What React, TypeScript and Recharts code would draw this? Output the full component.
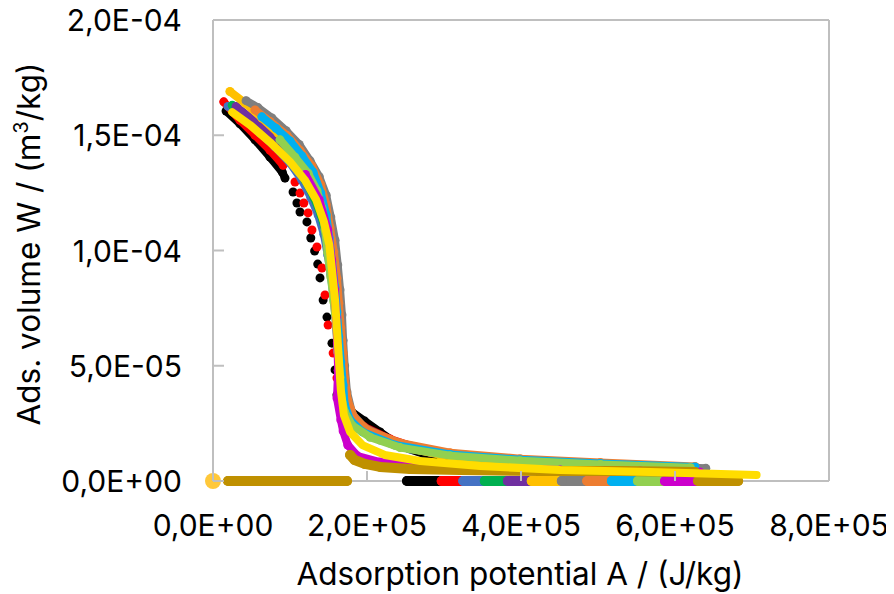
import React from 'react';
import { ScatterChart, Scatter, XAxis, YAxis, ReferenceLine } from 'recharts';

// ---- axis ticks ----
const xTicks = [0, 200000, 400000, 600000, 800000];
const yTicks = [0, 5e-5, 1e-4, 1.5e-4, 2e-4];

// ---- curves: A (J/kg) and W (m3/kg) ----
const blackTopA = [17000, 35000, 54500, 74000, 90000, 93500];
const blackTopW = [1.605e-4, 1.55e-4, 1.48e-4, 1.405e-4, 1.34e-4, 1.314e-4];
const blackSteepA = [104000, 109000, 113000, 122000, 127000, 132000, 136000, 139000, 143000, 148000, 154500, 158500, 161000];
const blackSteepW = [1.254e-4, 1.206e-4, 1.167e-4, 1.124e-4, 1.054e-4, 0.998e-4, 0.941e-4, 0.881e-4, 0.785e-4, 0.711e-4, 0.598e-4, 0.482e-4, 0.373e-4];
const blackTailA = [165000, 171000, 180500, 197000, 217000, 243000, 282000, 347000, 438000, 529000, 607000];
const blackTailW = [0.338e-4, 0.317e-4, 0.299e-4, 0.26e-4, 0.213e-4, 0.152e-4, 0.108e-4, 0.08e-4, 0.062e-4, 0.05e-4, 0.041e-4];

const redTopA = [14000, 35000, 54500, 74000, 91000];
const redTopW = [1.645e-4, 1.565e-4, 1.5e-4, 1.435e-4, 1.37e-4];
const redSteepA = [106500, 113000, 118000, 123500, 128500, 135000, 141500, 145500, 149500, 156000, 161000, 166000];
const redSteepW = [1.297e-4, 1.249e-4, 1.206e-4, 1.163e-4, 1.089e-4, 1.015e-4, 0.924e-4, 0.807e-4, 0.677e-4, 0.555e-4, 0.447e-4, 0.351e-4];
const redTailA = [172500, 180500, 197000, 230000, 269000, 334000, 425000, 529000, 619000];
const redTailW = [0.308e-4, 0.273e-4, 0.234e-4, 0.182e-4, 0.139e-4, 0.102e-4, 0.08e-4, 0.063e-4, 0.05e-4];

const blueA = [19500, 41500, 61000, 80500, 100000, 115500, 127000, 136500, 144000, 149000, 153000, 157000, 160000, 162000, 165000, 169000, 175000, 188000, 217000, 256000, 321000, 412000, 516000, 626000];
const blueW = [1.625e-4, 1.565e-4, 1.51e-4, 1.45e-4, 1.38e-4, 1.305e-4, 1.23e-4, 1.155e-4, 1.07e-4, 0.98e-4, 0.895e-4, 0.785e-4, 0.675e-4, 0.57e-4, 0.46e-4, 0.35e-4, 0.29e-4, 0.23e-4, 0.178e-4, 0.139e-4, 0.106e-4, 0.08e-4, 0.063e-4, 0.05e-4];

const greenA = [25000, 48000, 67500, 87000, 105000, 119500, 131000, 140000, 147000, 152000, 156000, 158500, 161000, 164000, 166000, 170000, 178000, 194000, 223000, 269000, 334000, 425000, 529000, 626000];
const greenW = [1.63e-4, 1.565e-4, 1.51e-4, 1.45e-4, 1.38e-4, 1.305e-4, 1.23e-4, 1.155e-4, 1.07e-4, 0.98e-4, 0.895e-4, 0.785e-4, 0.675e-4, 0.57e-4, 0.46e-4, 0.35e-4, 0.27e-4, 0.22e-4, 0.174e-4, 0.134e-4, 0.102e-4, 0.08e-4, 0.063e-4, 0.05e-4];

const purpleA = [30000, 54500, 74000, 93500, 112000, 126000, 137000, 144500, 150000, 154500, 158000, 161000, 163000, 165500, 167500, 171000, 179000, 196000, 230000, 282000, 347000, 438000, 542000, 626000];
const purpleW = [1.625e-4, 1.56e-4, 1.505e-4, 1.445e-4, 1.37e-4, 1.3e-4, 1.22e-4, 1.14e-4, 1.055e-4, 0.967e-4, 0.87e-4, 0.77e-4, 0.665e-4, 0.56e-4, 0.447e-4, 0.343e-4, 0.27e-4, 0.217e-4, 0.165e-4, 0.124e-4, 0.098e-4, 0.08e-4, 0.063e-4, 0.05e-4];

const amberA = [22000, 41500, 63500, 84500, 102500, 118000, 131000, 141500, 149000, 154500, 158500, 161000, 163500, 166000, 169000, 173000, 181000, 199000, 236000, 295000, 373000, 477000, 581000, 632000];
const amberW = [1.69e-4, 1.64e-4, 1.575e-4, 1.51e-4, 1.435e-4, 1.36e-4, 1.28e-4, 1.2e-4, 1.11e-4, 1.01e-4, 0.905e-4, 0.795e-4, 0.685e-4, 0.577e-4, 0.47e-4, 0.36e-4, 0.273e-4, 0.213e-4, 0.156e-4, 0.113e-4, 0.087e-4, 0.067e-4, 0.055e-4, 0.048e-4];

const grayA = [43000, 58500, 76500, 95000, 112000, 126000, 138000, 147000, 153000, 158500, 162000, 165000, 167500, 169000, 171000, 174000, 181000, 197000, 236000, 295000, 373000, 477000, 581000, 640000];
const grayW = [1.65e-4, 1.62e-4, 1.575e-4, 1.52e-4, 1.46e-4, 1.39e-4, 1.32e-4, 1.24e-4, 1.145e-4, 1.045e-4, 0.937e-4, 0.83e-4, 0.72e-4, 0.61e-4, 0.5e-4, 0.386e-4, 0.29e-4, 0.23e-4, 0.17e-4, 0.125e-4, 0.099e-4, 0.078e-4, 0.063e-4, 0.055e-4];

const orangeA = [54500, 74000, 96000, 113000, 128500, 140000, 147000, 152000, 157000, 161000, 163500, 166000, 169000, 171000, 175000, 183000, 201000, 243000, 308000, 399000, 503000, 626000];
const orangeW = [1.61e-4, 1.56e-4, 1.5e-4, 1.435e-4, 1.367e-4, 1.285e-4, 1.2e-4, 1.1e-4, 0.993e-4, 0.88e-4, 0.77e-4, 0.664e-4, 0.555e-4, 0.447e-4, 0.35e-4, 0.278e-4, 0.22e-4, 0.165e-4, 0.123e-4, 0.097e-4, 0.08e-4, 0.063e-4];

const cyanA = [63500, 82000, 100000, 115500, 130000, 140000, 147000, 151000, 154500, 158500, 161000, 163500, 166000, 169000, 171000, 178000, 194000, 236000, 308000, 399000, 503000, 626000];
const cyanW = [1.58e-4, 1.53e-4, 1.475e-4, 1.41e-4, 1.34e-4, 1.25e-4, 1.155e-4, 1.055e-4, 0.95e-4, 0.84e-4, 0.733e-4, 0.625e-4, 0.516e-4, 0.416e-4, 0.33e-4, 0.265e-4, 0.213e-4, 0.156e-4, 0.115e-4, 0.092e-4, 0.076e-4, 0.061e-4];

const limeA = [87000, 106500, 123500, 135000, 141500, 145500, 149000, 153000, 157000, 160000, 162000, 165000, 166000, 171000, 181000, 204000, 243000, 308000, 399000, 503000, 620000];
const limeW = [1.48e-4, 1.405e-4, 1.335e-4, 1.26e-4, 1.185e-4, 1.09e-4, 0.99e-4, 0.885e-4, 0.777e-4, 0.668e-4, 0.56e-4, 0.45e-4, 0.373e-4, 0.3e-4, 0.24e-4, 0.19e-4, 0.145e-4, 0.11e-4, 0.088e-4, 0.072e-4, 0.058e-4];

const magentaA = [120000, 138000, 149000, 154000, 158000, 160000, 161500, 162500, 161000, 166000, 169000, 175000, 188000, 217000, 269000, 347000, 451000, 555000, 632000];
const magentaW = [1.33e-4, 1.22e-4, 1.09e-4, 0.96e-4, 0.83e-4, 0.71e-4, 0.6e-4, 0.48e-4, 0.36e-4, 0.265e-4, 0.217e-4, 0.156e-4, 0.108e-4, 0.082e-4, 0.065e-4, 0.056e-4, 0.048e-4, 0.043e-4, 0.039e-4];

const goldA = [178000, 184000, 197000, 217000, 256000, 321000, 425000, 529000, 626000];
const goldW = [0.113e-4, 0.091e-4, 0.074e-4, 0.061e-4, 0.052e-4, 0.048e-4, 0.043e-4, 0.043e-4, 0.039e-4];

const yellowA = [25000, 48000, 74000, 100000, 119500, 134000, 144000, 151000, 154500, 158500, 161000, 163500, 166000, 170000, 178000, 194000, 223000, 269000, 347000, 451000, 568000, 706000];
const yellowW = [1.6e-4, 1.545e-4, 1.47e-4, 1.385e-4, 1.305e-4, 1.22e-4, 1.125e-4, 1.025e-4, 0.915e-4, 0.785e-4, 0.655e-4, 0.525e-4, 0.395e-4, 0.286e-4, 0.213e-4, 0.156e-4, 0.113e-4, 0.087e-4, 0.065e-4, 0.048e-4, 0.039e-4, 0.026e-4];

// ---- points at W = 0 (A values) ----
const goldZeroLeftA = [19500, 60000, 100000, 140000, 174000];
const blackZeroA = [252000, 275000, 297000];
const redZeroA = [297000, 325000];
const blueZeroA = [325000, 353000];
const greenZeroA = [353000, 383000];
const purpleZeroA = [383000, 414000];
const amberZeroA = [414000, 435000, 453000];
const grayZeroA = [453000, 486000];
const orangeZeroA = [486000, 518000];
const cyanZeroA = [518000, 552000];
const limeZeroA = [552000, 587000];
const magentaZeroA = [587000, 630000];
const goldZeroRightA = [630000, 660000, 682000];
const originA = [0];

const C = {
  black: '#000000', red: '#FF0000', blue: '#4472C4', green: '#00B050', purple: '#7030A0',
  amber: '#FFC000', gray: '#7F7F7F', orange: '#ED7D31', cyan: '#00B0F0', lime: '#92D050',
  magenta: '#CC00CC', gold: '#BF9000', yellow: '#FFDD00', origin: '#FFC83A',
};

const pts = (a: number[], w: number[]) => a.map((x, i) => ({ x, y: w[i] }));
const zero = (a: number[]) => a.map((x) => ({ x, y: 0 }));

type S = { key: string; data: { x: number; y: number }[]; color: string; r: number; lw: number };

const series: S[] = [
  { key: 'gz', data: zero(goldZeroLeftA), color: C.gold, r: 5, lw: 10 },
  { key: 'bz', data: zero(blackZeroA), color: C.black, r: 5, lw: 10 },
  { key: 'rz', data: zero(redZeroA), color: C.red, r: 5, lw: 10 },
  { key: 'blz', data: zero(blueZeroA), color: C.blue, r: 5, lw: 10 },
  { key: 'grz', data: zero(greenZeroA), color: C.green, r: 5, lw: 10 },
  { key: 'pz', data: zero(purpleZeroA), color: C.purple, r: 5, lw: 10 },
  { key: 'az', data: zero(amberZeroA), color: C.amber, r: 5, lw: 10 },
  { key: 'gyz', data: zero(grayZeroA), color: C.gray, r: 5, lw: 10 },
  { key: 'oz', data: zero(orangeZeroA), color: C.orange, r: 5, lw: 10 },
  { key: 'cz', data: zero(cyanZeroA), color: C.cyan, r: 5, lw: 10 },
  { key: 'lz', data: zero(limeZeroA), color: C.lime, r: 5, lw: 10 },
  { key: 'mz', data: zero(magentaZeroA), color: C.magenta, r: 5, lw: 10 },
  { key: 'gz2', data: zero(goldZeroRightA), color: C.gold, r: 5, lw: 10 },
  { key: 'org', data: zero(originA), color: C.origin, r: 8, lw: 0 },
  { key: 'bt', data: pts(blackTopA, blackTopW), color: C.black, r: 4.5, lw: 8 },
  { key: 'bs', data: pts(blackSteepA, blackSteepW), color: C.black, r: 4.5, lw: 0 },
  { key: 'btl', data: pts(blackTailA, blackTailW), color: C.black, r: 4.5, lw: 8 },
  { key: 'rt', data: pts(redTopA, redTopW), color: C.red, r: 4.5, lw: 8 },
  { key: 'rs', data: pts(redSteepA, redSteepW), color: C.red, r: 4.5, lw: 0 },
  { key: 'rtl', data: pts(redTailA, redTailW), color: C.red, r: 4.5, lw: 8 },
  { key: 'bl', data: pts(blueA, blueW), color: C.blue, r: 4.5, lw: 8 },
  { key: 'gr', data: pts(greenA, greenW), color: C.green, r: 4.5, lw: 8 },
  { key: 'pu', data: pts(purpleA, purpleW), color: C.purple, r: 4.5, lw: 8 },
  { key: 'am', data: pts(amberA, amberW), color: C.amber, r: 4.5, lw: 8 },
  { key: 'gy', data: pts(grayA, grayW), color: C.gray, r: 4.5, lw: 8 },
  { key: 'or', data: pts(orangeA, orangeW), color: C.orange, r: 4.5, lw: 8 },
  { key: 'cy', data: pts(cyanA, cyanW), color: C.cyan, r: 4.5, lw: 8 },
  { key: 'li', data: pts(limeA, limeW), color: C.lime, r: 4.5, lw: 8 },
  { key: 'ma', data: pts(magentaA, magentaW), color: C.magenta, r: 4.5, lw: 8 },
  { key: 'go', data: pts(goldA, goldW), color: C.gold, r: 5, lw: 10 },
  { key: 'ye', data: pts(yellowA, yellowW), color: C.yellow, r: 0, lw: 8 },
];

const FONT = 'Inter, "Noto Sans", sans-serif';
const AXIS = '#BFBFBF';

const fmt = (v: number) => {
  if (v === 0) return '0,0E+00';
  const e = Math.floor(Math.log10(Math.abs(v)) + 1e-9);
  const m = v / Math.pow(10, e);
  return m.toFixed(1).replace('.', ',') + 'E' + (e < 0 ? '-' : '+') + String(Math.abs(e)).padStart(2, '0');
};

const XTick = (props: any) => {
  const { x, y, payload } = props;
  return (
    <g>
      <line x1={x} y1={y} x2={x} y2={y - 10} stroke={AXIS} strokeWidth={2} />
      <text x={x} y={y + 55} textAnchor="middle" fontSize={30} fontFamily={FONT} fill="#000">
        {fmt(payload.value)}
      </text>
    </g>
  );
};

const YTick = (props: any) => {
  const { x, y, payload } = props;
  return (
    <g>
      <line x1={x} y1={y} x2={x + 11} y2={y} stroke={AXIS} strokeWidth={2} />
      <text x={x - 31} y={y + 11} textAnchor="end" fontSize={30} fontFamily={FONT} fill="#000">
        {fmt(payload.value)}
      </text>
    </g>
  );
};

const XTitle = () => (
  <text x={512} y={577} textAnchor="middle" fontSize={31.5} fontFamily={FONT} fill="#000">
    Adsorption potential A / (J/kg)
  </text>
);

const YTitle = () => (
  <text x={32} y={236} transform="rotate(-90 32 236)" textAnchor="middle" fontSize={31.5} fontFamily={FONT} fill="#000">
    <tspan>Ads. volume W / (m</tspan>
    <tspan dy={-12} fontSize={20}>3</tspan>
    <tspan dy={12}>/kg)</tspan>
  </text>
);

export default function App() {
  return (
    <ScatterChart width={880} height={586} margin={{ top: 12, right: 59, bottom: 0, left: 0 }}>
      <XAxis
        type="number"
        dataKey="x"
        domain={[0, 800000]}
        ticks={xTicks}
        interval={0}
        height={113}
        tickSize={0}
        tickMargin={0}
        tickLine={false}
        axisLine={{ stroke: AXIS, strokeWidth: 2 }}
        tick={<XTick />}
        label={<XTitle />}
      />
      <YAxis
        type="number"
        dataKey="y"
        domain={[0, 2e-4]}
        ticks={yTicks}
        interval={0}
        width={205}
        tickSize={0}
        tickMargin={0}
        tickLine={false}
        axisLine={{ stroke: AXIS, strokeWidth: 2 }}
        tick={<YTick />}
        label={<YTitle />}
      />
      <ReferenceLine y={2e-4} stroke={AXIS} strokeWidth={2} ifOverflow="visible" />
      <ReferenceLine x={800000} stroke={AXIS} strokeWidth={2} ifOverflow="visible" />
      {series.map((s) => (
        <Scatter
          key={s.key}
          data={s.data}
          fill={s.color}
          isAnimationActive={false}
          line={s.lw > 0 ? { stroke: s.color, strokeWidth: s.lw, strokeLinecap: 'round', strokeLinejoin: 'round' } : false}
          lineType="joint"
          shape={(p: any) =>
            s.r > 0 ? <circle cx={p.cx} cy={p.cy} r={s.r} fill={s.color} /> : <g />
          }
        />
      ))}
    </ScatterChart>
  );
}
